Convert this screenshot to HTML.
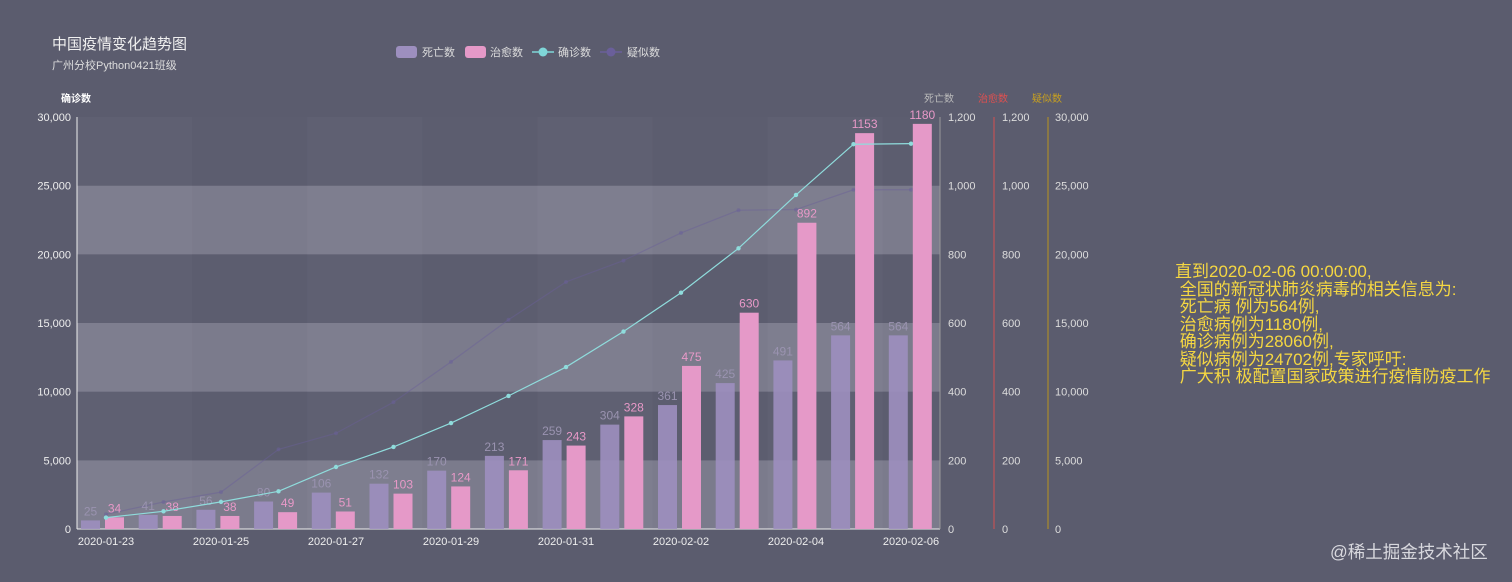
<!DOCTYPE html>
<html><head><meta charset="utf-8">
<style>
html,body{margin:0;padding:0;background:#5b5c6e;}
svg{display:block;font-family:"Liberation Sans","Noto Sans CJK SC",sans-serif;}
</style></head>
<body>
<svg id="c" width="1512" height="582" xmlns="http://www.w3.org/2000/svg">
<rect width="1512" height="582" fill="#5b5c6e"/>
<text x="52" y="49" font-size="15" fill="#f0f0f0">中国疫情变化趋势图</text>
<text x="52" y="69" font-size="11" fill="#ddd">广州分校Python0421班级</text>
<rect x="396" y="46" width="21" height="12" rx="3" fill="#9d8fbf"/>
<text x="422" y="56" font-size="11" fill="#ddd">死亡数</text>
<rect x="465" y="46" width="21" height="12" rx="3" fill="#e599c8"/>
<text x="490" y="56" font-size="11" fill="#ddd">治愈数</text>
<line x1="532" y1="52" x2="554" y2="52" stroke="#7fd6d8" stroke-width="1.5"/><circle cx="543" cy="52" r="4.5" fill="#7fd6d8"/>
<text x="558" y="56" font-size="11" fill="#ddd">确诊数</text>
<line x1="600" y1="52" x2="622" y2="52" stroke="#6a5f9a" stroke-width="1.5"/><circle cx="611" cy="52" r="4.5" fill="#6a5f9a"/>
<text x="627" y="56" font-size="11" fill="#ddd">疑似数</text>
<text x="61" y="102" font-size="10" fill="#fff" font-weight="bold">确诊数</text>
<text x="924" y="102" font-size="10" fill="#bbb">死亡数</text>
<text x="978" y="102" font-size="10" fill="#e05050">治愈数</text>
<text x="1032" y="102" font-size="10" fill="#c8a020">疑似数</text>
<g id="g"></g>
<g font-size="17" fill="#f5d742">
<text x="1175" y="277">直到2020-02-06 00:00:00,</text>
<text x="1175" y="295" xml:space="preserve"> 全国的新冠状肺炎病毒的相关信息为:</text>
<text x="1175" y="312" xml:space="preserve"> 死亡病 例为564例,</text>
<text x="1175" y="330" xml:space="preserve"> 治愈病例为1180例,</text>
<text x="1175" y="347" xml:space="preserve"> 确诊病例为28060例,</text>
<text x="1175" y="365" xml:space="preserve"> 疑似病例为24702例,专家呼吁:</text>
<text x="1175" y="382" xml:space="preserve"> 广大积 极配置国家政策进行疫情防疫工作</text>
</g>
<text x="1330" y="558" font-size="17.5" fill="#d8d8de">@稀土掘金技术社区</text>
</svg>
<script>
var g=document.getElementById('g'),s='';
var X0=77,X1=940,Y0=529,H=412;
for(var k=0;k<8;k++){var a=X0+k*115.1,b=Math.min(a+115.1,X1);s+='<rect x="'+a+'" y="117" width="'+(b-a)+'" height="412" fill="'+(k%2?'#55566a':'#77778a')+'" opacity="0.3"/>';}
for(var k=0;k<6;k++){var y=Y0-(k+1)*H/6;s+='<rect x="'+X0+'" y="'+y+'" width="'+(X1-X0)+'" height="'+(H/6)+'" fill="'+(k%2==0?'#8a899a':'#5e5e70')+'" opacity="0.7"/>';}
s+='<line x1="'+X0+'" y1="117" x2="'+X0+'" y2="529" stroke="#eee"/>';
s+='<line x1="'+X0+'" y1="529" x2="'+X1+'" y2="529" stroke="#eee"/>';
s+='<line x1="'+X1+'" y1="117" x2="'+X1+'" y2="529" stroke="#999"/>';
s+='<line x1="994" y1="117" x2="994" y2="529" stroke="#d65050"/>';
s+='<line x1="1048" y1="117" x2="1048" y2="529" stroke="#b8951e"/>';
for(var k=0;k<=6;k++){var y=Y0-k*H/6;
 s+='<text x="71" y="'+(y+4)+'" font-size="11" fill="#eee" text-anchor="end">'+(k*5000).toLocaleString('en-US')+'</text>';
 s+='<text x="948" y="'+(y+4)+'" font-size="11" fill="#ddd">'+(k*200).toLocaleString('en-US')+'</text>';
 s+='<text x="1002" y="'+(y+4)+'" font-size="11" fill="#ddd">'+(k*200).toLocaleString('en-US')+'</text>';
 s+='<text x="1055" y="'+(y+4)+'" font-size="11" fill="#ddd">'+(k*5000).toLocaleString('en-US')+'</text>';}
var dates=['2020-01-23','2020-01-25','2020-01-27','2020-01-29','2020-01-31','2020-02-02','2020-02-04','2020-02-06'];
for(var k=0;k<8;k++){s+='<text x="'+(106+115*k)+'" y="545" font-size="11" fill="#eee" text-anchor="middle">'+dates[k]+'</text>';}
var death=[25,41,56,80,106,132,170,213,259,304,361,425,491,564,564];
var cure=[34,38,38,49,51,103,124,171,243,328,475,630,892,1153,1180];
var conf=[830,1287,1975,2744,4515,5974,7711,9692,11791,14380,17205,20438,24324,28018,28060];
var susp=[1072,1965,2684,5794,6973,9239,12167,15238,17988,19544,21558,23214,23260,24702,24702];
var p='';for(var i=0;i<15;i++){p+=(106+57.5*i)+','+(Y0-susp[i]*H/30000)+' ';}
s+='<polyline points="'+p+'" fill="none" stroke="#6a5f9a" stroke-width="1.2" opacity="0.45"/>';
for(var i=0;i<15;i++){s+='<circle cx="'+(106+57.5*i)+'" cy="'+(Y0-susp[i]*H/30000)+'" r="2" fill="#6a5f9a" opacity="0.5"/>';}
for(var i=0;i<15;i++){
 var dx=81+57.7*i,cx=105+57.7*i,dh=death[i]*H/1200,ch=cure[i]*H/1200;
 s+='<rect x="'+dx+'" y="'+(Y0-dh)+'" width="19" height="'+dh+'" fill="#9d8fbf" opacity="0.9"/>';
 s+='<text x="'+(dx+9.5)+'" y="'+(Y0-dh-5)+'" font-size="12" fill="#9a93b0" text-anchor="middle">'+death[i]+'</text>';
 s+='<rect x="'+cx+'" y="'+(Y0-ch)+'" width="19" height="'+ch+'" fill="#e599c8"/>';
 s+='<text x="'+(cx+9.5)+'" y="'+(Y0-ch-5)+'" font-size="12" fill="#e899c8" text-anchor="middle">'+cure[i]+'</text>';}
p='';for(var i=0;i<15;i++){p+=(106+57.5*i)+','+(Y0-conf[i]*H/30000)+' ';}
s+='<polyline points="'+p+'" fill="none" stroke="#8fdcdc" stroke-width="1.2"/>';
for(var i=0;i<15;i++){s+='<circle cx="'+(106+57.5*i)+'" cy="'+(Y0-conf[i]*H/30000)+'" r="2.2" fill="#8fdcdc"/>';}
g.innerHTML=s;
</script>
</body></html>
